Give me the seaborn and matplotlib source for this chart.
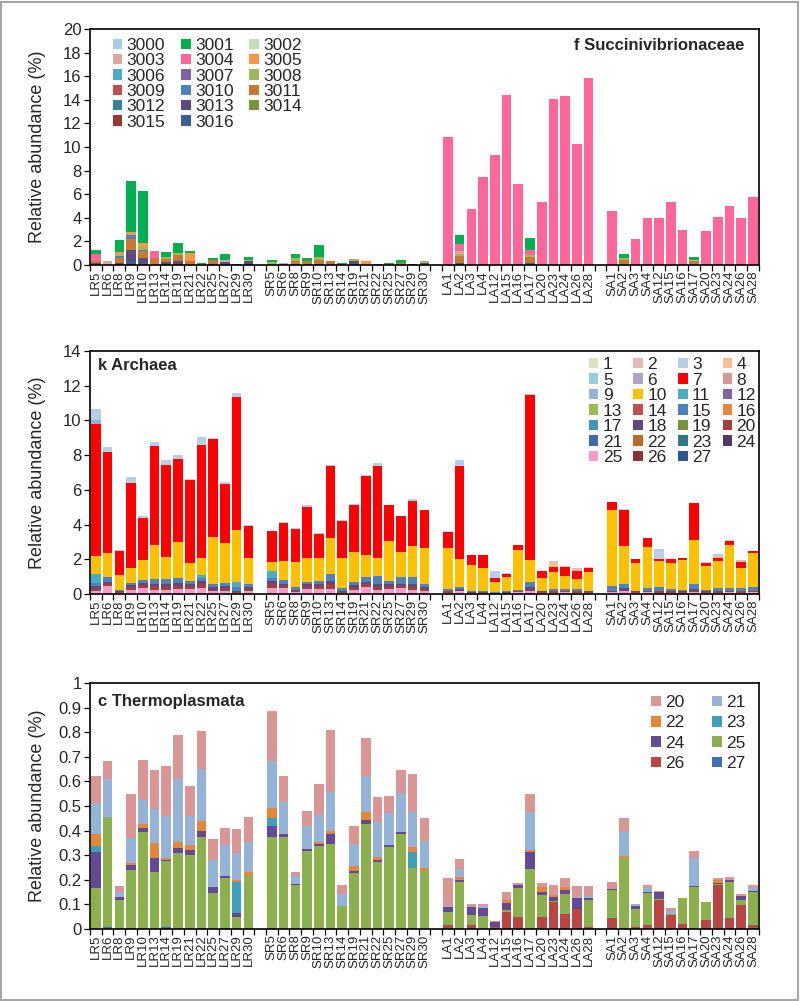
import numpy as np
import pandas as pd
import matplotlib
matplotlib.use('Agg')
import matplotlib.pyplot as plt
import seaborn as sns
from matplotlib.patches import Patch, Rectangle

# sample names, four groups
lr = ['LR5', 'LR6', 'LR8', 'LR9', 'LR10', 'LR13', 'LR14', 'LR19', 'LR21', 'LR22', 'LR25', 'LR27', 'LR29', 'LR30']
sr = ['SR5', 'SR6', 'SR8', 'SR9', 'SR10', 'SR13', 'SR14', 'SR19', 'SR21', 'SR22', 'SR25', 'SR27', 'SR29', 'SR30']
la = ['LA1', 'LA2', 'LA3', 'LA4', 'LA12', 'LA15', 'LA16', 'LA17', 'LA20', 'LA23', 'LA24', 'LA26', 'LA28']
sa = ['SA1', 'SA2', 'SA3', 'SA4', 'SA12', 'SA15', 'SA16', 'SA17', 'SA20', 'SA23', 'SA24', 'SA26', 'SA28']
samples = lr + sr + la + sa
order = lr + [' '] + sr + ['  '] + la + ['   '] + sa


def fill(d):
    return [d.get(s, 0.0) for s in samples]


# ---- f Succinivibrionaceae (sparse series as dicts) ----
f3016 = {'LR9': .3, 'LR10': .2, 'LA2': .15, 'LA16': .1, 'LA17': .2}
f3013 = {'LR5': .15, 'LR8': .2, 'LR9': 1.0, 'LR10': .4, 'LR14': .25, 'LR19': .3, 'LR25': .1, 'LR27': .25,
         'LR29': .05, 'LR30': .3, 'SR8': .1, 'SR10': .1, 'SR19': .3, 'SR22': .05, 'SR29': .05, 'SR30': .2}
f3011 = {'LR5': .15, 'LR8': .4, 'LR9': .9, 'LR10': .6, 'LR13': .6, 'LR14': .25, 'LR19': .55, 'LR21': .3,
         'LR22': .1, 'LR25': .3, 'SR6': .1, 'SR8': .25, 'SR9': .3, 'SR10': .35, 'SR13': .3, 'SR14': .1,
         'SR27': .2, 'LA2': .6, 'LA17': .45, 'SA2': .45, 'SA17': .3}
f3010 = {'LR8': .2, 'LR9': .3, 'LR10': .05}
f3008 = {'LR8': .1, 'LR10': .25, 'LR14': .2, 'LR19': .15, 'LR30': .15, 'SR5': .25, 'SR8': .2, 'SR10': .2,
         'SR19': .18, 'SR25': .1, 'SR30': .1, 'LA2': .2, 'LA17': .2, 'SA2': .15}
f3003 = {'LR6': .35, 'LR27': .2, 'SR6': .1, 'LA2': .25, 'SA17': .15}
f3005 = {'LR8': .2, 'LR9': .3, 'LR10': .35, 'LR21': .7, 'SR21': .35}
f3004 = ([.63, 0, 0, 0, 0, .6, 0, 0, 0, 0, 0, 0, 0, 0] +
         [0] * 14 +
         [10.85, .55, 4.72, 7.49, 9.32, 14.4, 6.79, .4, 5.31, 14.1, 14.3, 10.25, 15.85] +
         [4.6, 0, 2.2, 4.0, 4.0, 5.34, 2.97, 0, 2.91, 4.07, 5.03, 3.98, 5.76])
f3001 = ([.34, 0, 1.05, 4.35, 4.4, .02, .4, .9, .15, .05, .2, .48, 0, .2] +
         [.17, 0, .38, .3, 1.0, 0, .05, 0, 0, 0, .1, .2, 0, 0] +
         [0, .82, 0, 0, 0, 0, 0, 1.04, 0, 0, 0, 0, 0] +
         [0, .36, 0, 0, 0, 0, 0, .23, 0, 0, 0, 0, 0])

f_labels = ['3000', '3001', '3002', '3003', '3004', '3005', '3006', '3007', '3008', '3009',
            '3010', '3011', '3012', '3013', '3014', '3015', '3016']
f_colors = ['#A6CEE3', '#00B050', '#C4DEB4', '#D9A5A5', '#FF6699', '#F79646', '#4BACC6', '#8064A2',
            '#9BBB59', '#C0504D', '#4F81BD', '#C8782F', '#31859C', '#604A7B', '#77933C', '#953735',
            '#3A5F91']

# ---- k Archaea ----
k25 = ([.15, .45, .05, .25, .35, .25, .25, .3, .3, .35, .15, .2, .05, .2] +
       [.35, .35, .1, .3, .3, .3, .05, .25, .4, .25, .3, .35, .25, .2] +
       [.05, .15, 0, .05, 0, 0, .1, .2, .05, .05, .1, .05, .05] +
       [.1, .15, .05, .1, .05, .05, .05, .1, .05, .05, .1, .05, .1])
k20 = ([.15, .1, .05, .15, .15, .2, .15, .15, .15, .2, .1, .1, .05, .1] +
       [.25, .1, .05, .1, .15, .25, .05, .1, .15, .15, .1, .1, .15, .1] +
       [.1, .05, .05, 0, 0, .05, .05, .05, .05, .1, .05, .1, .05] +
       [.05, .05, .05, .05, .1, .05, .05, .05, .05, .1, .05, .1, .05])
k18 = ([.15, .15, .05, .1, .15, .15, .15, .2, .15, .2, .15, .15, .1, .1] +
       [.15, .15, .1, .15, .15, .2, .1, .15, .15, .15, .15, .15, .15, .1] +
       [.05, .1, .05, .05, .05, .05, .05, .15, .05, .05, .05, .05, .05] +
       [0, .15, .05, .05, .05, .05, .05, .15, .05, .05, .05, .05, .05])
k15 = ([.2, .3, .1, .15, .15, .25, .3, .3, .15, .2, .2, .2, .2, .15] +
       [.15, .2, .15, .15, .15, .4, .15, .2, .3, .5, .2, .4, .45, .15] +
       [.1, .1, .1, .05, .05, .05, .05, .3, .05, .1, .1, .1, .05] +
       [.3, .25, .05, .15, .2, .15, .1, .25, .1, .15, .15, .15, .2])
k11 = {'LR5': .5, 'LR22': .15, 'LR29': .3, 'SR5': .4}
k10 = ([1.05, 1.35, .85, .85, 1.15, 2.0, 1.3, 2.05, 1.05, .95, 2.7, 2.3, 3.0, 1.5] +
       [.55, 1.1, 1.45, 1.35, 1.35, 2.05, 1.75, 1.7, 1.25, 1.0, 2.3, 1.4, 1.75, 2.1] +
       [2.33, 1.6, 1.47, 1.33, .61, .81, 2.28, 1.26, .74, .95, .75, .56, 1.05] +
       [4.38, 2.16, 1.58, 2.37, 1.5, 1.5, 1.7, 2.55, 1.35, 1.55, 2.45, 1.15, 1.95])
k7 = ([7.6, 5.85, 1.4, 4.92, 2.45, 5.7, 5.3, 4.8, 4.75, 6.55, 5.6, 3.4, 7.65, 1.88] +
      [1.75, 2.2, 1.9, 2.95, 1.37, 4.15, 2.1, 2.7, 4.55, 5.35, 2.05, 2.07, 2.6, 2.18] +
      [.95, 5.35, .55, .74, .23, .21, .27, 9.52, .38, .28, .53, .49, .25] +
      [.46, 2.09, .21, .5, .1, .21, .1, 2.14, .2, .15, .28, .35, .12])
k9 = {'LR5': .2}
k4 = {'LA23': .32, 'SA23': .15}
k2 = {'LA26': .13, 'SA26': .11}
k3 = ([.63, .28, .03, .33, .1, .2, .25, .2, .05, .45, .1, .1, .25, .02] +
      [.05, .05, .05, .1, .03, .1, .05, .1, .05, .15, .05, .03, .1, .02] +
      [.02, .35, .02, .02, .38, .02, .02, .02, .02, .05, .03, 0, .03] +
      [.02, .02, .02, .02, .59, .02, .02, .02, .02, .08, .02, 0, .02])

k_labels = [str(i) for i in range(1, 28)]
k_colors = ['#D7E4BD', '#E6B9B8', '#B9CDE5', '#FAC090', '#93CDDD', '#B3A2C7', '#FF0000', '#D99694',
            '#95B3D7', '#FFC000', '#4BACC6', '#8064A2', '#9BBB59', '#C0504D', '#4F81BD', '#E4883E',
            '#3A9AB2', '#604A7B', '#77933C', '#A23F3F', '#3E6AA6', '#B86B2B', '#2E7A8C', '#4F3A66',
            '#FF99CC', '#8B3333', '#2F5597']

# ---- c Thermoplasmata ----
c26 = ([0] * 14 + [0] * 14 +
       [.015, 0, .015, 0, .01, .068, .047, 0, .05, .11, .062, .08, .01] +
       [.045, .005, .008, .015, .118, .056, .02, 0, .036, .179, .045, .096, .018])
c27 = {'LR6': .01, 'LR9': .003, 'LR14': .01, 'LR22': .004, 'LR27': .003,
       'SR5': .005, 'SR13': .006, 'SR27': .005, 'SR29': .005}
c25 = ([.165, .445, .12, .237, .395, .232, .265, .31, .3, .371, .145, .204, .05, .215] +
       [.367, .375, .178, .317, .337, .339, .092, .228, .428, .274, .333, .38, .242, .24] +
       [.053, .19, .041, .053, 0, .009, .121, .245, .09, .005, .08, 0, .108] +
       [.113, .283, .072, .13, .006, .004, .105, .17, .072, .004, .145, .024, .132])
c24 = ([.148, 0, .012, .02, .015, .057, .005, .02, .02, .025, .025, .008, .015, 0] +
       [.048, .01, .007, .01, .008, .04, 0, .007, .015, .008, .01, .01, 0, 0] +
       [.022, .01, .035, .032, .018, .028, .012, .067, .01, .015, .015, .045, .007] +
       [.005, 0, .015, .007, .026, 0, 0, .005, .003, .005, .01, .013, .005])
c23 = {'LR5': .025, 'LR29': .125, 'SR5': .032, 'SR29': .066}
c22 = ([.05, 0, 0, .01, .015, .06, .01, .025, .02, .04, 0, 0, .01, .017] +
       [.04, 0, 0, 0, .01, .015, 0, .02, .032, .01, 0, 0, .022, .007] +
       [0, .01, 0, 0, 0, .015, 0, .008, .02, .01, .015, 0, 0] +
       [0, .007, 0, 0, 0, 0, 0, 0, 0, .01, 0, 0, 0])
c21 = ([.125, .155, .02, .1, .1, .14, .17, .255, .12, .21, .11, .125, .11, .123] +
       [.19, .13, .03, .091, .11, .158, .05, .09, .148, .145, .127, .157, .142, .11] +
       [.005, .035, 0, .01, 0, 0, 0, .154, 0, 0, 0, .005, .009] +
       [0, .1, .007, .013, 0, .013, 0, .113, 0, 0, 0, 0, .01])
c20 = ([.108, .071, .023, .178, .163, .157, .201, .18, .121, .155, .086, .07, .096, .101] +
       [.206, .105, .018, .06, .125, .252, .035, .074, .154, .099, .071, .095, .154, .095] +
       [.114, .04, .011, .007, .006, .032, .009, .075, .016, .04, .034, .045, .042] +
       [.027, .057, 0, .014, .004, .013, 0, .029, 0, .01, .01, .009, .014])

c_labels = ['20', '21', '22', '23', '24', '25', '26', '27']
c_colors = ['#D99694', '#95B3D7', '#E5873A', '#3FA0B8', '#644A96', '#8DB04E', '#B94643', '#3C70B7']

sns.set_style('ticks')
plt.rcParams['font.family'] = ['Liberation Sans', 'DejaVu Sans']

fig = plt.figure(figsize=(8, 10.01), dpi=100)
ax1 = fig.add_axes([0.1125, 0.7353, 0.836, 0.2358])
ax2 = fig.add_axes([0.1125, 0.4066, 0.836, 0.2428])
ax3 = fig.add_axes([0.1125, 0.0719, 0.836, 0.2458])


def stacked(ax, layers, colors):
    # layers go bottom -> top; draw running totals from the top down
    cum = np.cumsum(np.array(layers, dtype=float), axis=0)
    for k in range(len(layers) - 1, -1, -1):
        df = pd.DataFrame({'sample': samples, 'value': cum[k]})
        sns.barplot(data=df, x='sample', y='value', order=order, color=colors[k], saturation=1,
                    width=0.82, errorbar=None, linewidth=0, ax=ax)


def style(ax, ymax, ticks):
    ax.set_xlim(-0.5, len(order) - 0.5)
    ax.set_ylim(0, ymax)
    ax.set_xticks(range(len(order)))
    ax.set_xticklabels(order, rotation=90, fontsize=9.5)
    ax.set_xticks(np.arange(-0.5, len(order), 1), minor=True)
    ax.tick_params(axis='x', which='major', length=0, pad=4)
    ax.tick_params(axis='x', which='minor', length=4, width=0.9, direction='out', color='black')
    ax.set_yticks(ticks)
    ax.set_yticklabels([f'{t:g}' for t in ticks], fontsize=12)
    ax.tick_params(axis='y', length=4, width=0.9, direction='out', pad=2, color='black')
    ax.set_xlabel('')
    ax.set_ylabel('Relative abundance (%)', fontsize=13)
    ax.yaxis.set_label_coords(-0.066, 0.5)
    for sp in ax.spines.values():
        sp.set_visible(True)
        sp.set_color('black')
        sp.set_linewidth(1.2)


def legend(ax, labels, colors, ncol, anchor, spacing, colspace):
    handles = [Patch(facecolor=c, edgecolor='none') for c in colors]
    idx = [i for c in range(ncol) for i in range(c, len(labels), ncol)]
    ax.legend([handles[i] for i in idx], [labels[i] for i in idx], ncol=ncol, frameon=False,
              fontsize=12.5, handlelength=0.55, handleheight=0.55, handletextpad=0.25,
              labelspacing=spacing, columnspacing=colspace, borderpad=0, borderaxespad=0,
              loc='upper left', bbox_to_anchor=anchor)


# panel f
stacked(ax1, [fill(f3016), fill(f3013), fill(f3011), fill(f3010), fill(f3008), fill(f3003),
              fill(f3005), f3004, f3001],
        ['#3A5F91', '#604A7B', '#C8782F', '#4F81BD', '#9BBB59', '#D9A5A5', '#F79646', '#FF6699', '#00B050'])
style(ax1, 20, list(range(0, 21, 2)))
legend(ax1, f_labels, f_colors, 3, (0.034, 0.962), 0.02, 0.9)
ax1.text(0.979, 0.928, 'f Succinivibrionaceae', transform=ax1.transAxes, ha='right', va='center',
         fontsize=12, fontweight='bold')

# panel k
stacked(ax2, [k25, k20, k18, k15, fill(k11), k10, k7, fill(k9), fill(k4), fill(k2), k3],
        ['#FF99CC', '#A23F3F', '#604A7B', '#4F81BD', '#4BACC6', '#FFC000', '#FF0000', '#95B3D7',
         '#FAC090', '#E6B9B8', '#B9CDE5'])
style(ax2, 14, list(range(0, 15, 2)))
legend(ax2, k_labels, k_colors, 4, (0.746, 0.975), 0.03, 0.65)
ax2.text(0.012, 0.942, 'k Archaea', transform=ax2.transAxes, ha='left', va='center',
         fontsize=12, fontweight='bold')

# panel c
stacked(ax3, [c26, fill(c27), c25, c24, fill(c23), c22, c21, c20],
        ['#B94643', '#3C70B7', '#8DB04E', '#644A96', '#3FA0B8', '#E5873A', '#95B3D7', '#D99694'])
style(ax3, 1, [round(v, 1) for v in np.arange(0, 1.01, 0.1)])
legend(ax3, c_labels, c_colors, 2, (0.839, 0.95), 0.3, 1.6)
ax3.text(0.012, 0.923, 'c Thermoplasmata', transform=ax3.transAxes, ha='left', va='center',
         fontsize=12, fontweight='bold')

fig.patches.append(Rectangle((0.001, 0.001), 0.997, 0.997, transform=fig.transFigure, fill=False,
                             edgecolor='#A6A6A6', linewidth=1.5))

fig.savefig('out.png', dpi=100)
